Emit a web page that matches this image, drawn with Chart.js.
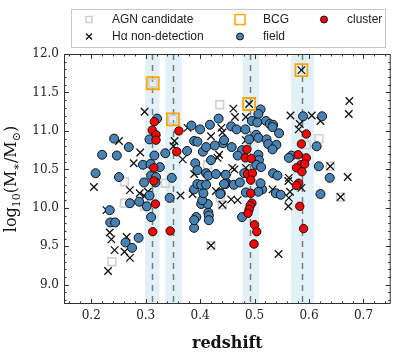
<!DOCTYPE html>
<html>
<head>
<meta charset="utf-8">
<script src="https://cdn.jsdelivr.net/npm/chart.js@4.4.0/dist/chart.umd.min.js"></script>
<style>
  html, body { margin:0; padding:0; background:#fff; }
  #wrap { width:401px; height:357px; position:relative; }
</style>
</head>
<body>
<div id="wrap"><canvas id="c"></canvas></div>
<script>
// field galaxies (blue)
const fieldZ = [0.321,0.242,0.307,0.269,0.220,0.247,0.316,0.336,0.384,0.400,0.418,0.434,0.442,0.389,0.395,0.376,0.405,0.411,0.427,0.295,
  0.309,0.326,0.391,0.420,0.511,0.507,0.495,0.505,0.521,0.528,0.534,0.533,0.545,0.457,0.467,0.483,0.444,0.503,0.507,0.490,
  0.522,0.525,0.540,0.533,0.458,0.477,0.469,0.507,0.508,0.503,0.589,0.624,0.614,0.568,0.563,0.618,0.638,0.621,0.534,0.542,
  0.539,0.548,0.514,0.507,0.511,0.477,0.484,0.447,0.462,0.473,0.438,0.481,0.512,0.208,0.251,0.297,0.310,0.319,0.318,0.307,
  0.271,0.288,0.302,0.310,0.348,0.344,0.234,0.235,0.244,0.263,0.287,0.275,0.389,0.393,0.389,0.415,0.416,0.416,0.402,0.414,
  0.404,0.406,0.389,0.395,0.402,0.411,0.395,0.411,0.415,0.429,0.447,0.444,0.437];
const fieldM = [11.16,10.90,10.89,10.79,10.69,10.68,10.68,10.71,11.07,11.02,11.08,11.16,10.84,10.87,10.86,10.74,10.73,10.79,10.81,10.56,
  10.57,10.53,10.58,10.62,11.28,11.22,11.13,11.11,11.13,11.09,11.08,11.05,10.97,11.06,11.02,11.02,10.88,10.95,10.91,10.89,
  10.89,10.83,10.82,10.76,10.79,10.75,10.68,10.69,10.62,10.56,11.19,11.19,10.80,10.68,10.65,10.54,10.39,10.18,10.45,10.42,
  10.19,10.17,10.24,10.21,10.32,9.88,10.20,10.31,10.30,10.33,10.19,10.45,10.53,10.45,10.40,10.33,10.42,10.40,10.33,10.16,
  10.06,10.08,10.02,9.88,10.39,10.13,9.97,9.81,9.81,9.55,9.61,9.48,9.74,9.88,9.84,9.94,9.90,9.84,10.05,10.05,
  10.10,10.19,10.24,10.31,10.30,10.30,10.49,10.45,10.42,10.44,10.43,10.31,10.18];

// cluster members (red)
const clusterZ = [0.316,0.312,0.319,0.319,0.357,0.361,0.315,0.315,0.318,0.313,0.345,
  0.486,0.483,0.494,0.487,0.496,0.493,0.493,0.495,0.492,0.490,0.488,0.500,0.504,0.499,
  0.595,0.586,0.580,0.595,0.585,0.592,0.577,0.581,0.577,0.583,0.590,0.587];
const clusterM = [11.12,11.01,10.95,10.88,10.73,11.00,10.52,10.35,10.05,9.69,9.70,
  10.76,10.65,10.64,10.44,10.45,10.36,10.19,10.06,10.03,9.98,9.93,9.78,9.69,9.53,
  10.96,10.83,10.69,10.65,10.56,10.57,10.52,10.32,10.29,10.02,9.73,10.47];

// H-alpha non-detections (crosses)
const nodetZ = [0.298,0.251,0.353,0.351,0.290,0.377,0.439,0.441,0.420,0.368,0.278,0.435,0.432,
  0.490,0.461,0.464,0.484,0.484,0.459,0.484,0.566,0.605,0.621,0.583,0.581,0.639,0.674,0.673,0.586,
  0.671,0.658,0.563,0.562,0.565,0.563,0.562,0.586,0.544,0.533,0.463,0.438,0.450,0.457,0.469,0.441,
  0.205,0.271,0.289,0.298,0.304,0.364,0.228,0.234,0.237,0.265,0.243,0.261,0.271,0.231,0.420,0.386,0.429,0.389];
const nodetM = [11.25,10.87,10.87,10.80,10.72,11.04,11.04,10.98,10.93,10.63,10.58,10.69,10.65,
  11.35,11.29,11.18,11.18,10.88,10.52,10.52,11.20,11.20,11.13,11.09,11.02,10.54,11.39,11.22,11.79,
  10.40,10.14,10.39,10.35,10.21,10.13,10.02,10.26,9.40,10.24,10.50,10.44,10.39,10.11,10.10,10.04,
  10.27,10.23,10.19,10.15,10.21,10.16,9.97,9.68,9.59,9.62,9.45,9.43,9.35,9.18,9.51,10.18,10.22,10.44];

// AGN candidates (grey squares)
const agnZ = [0.313,0.350,0.436,0.414,0.618,0.595,0.639,0.658,0.441,0.261,0.261,0.298,0.336,0.238,0.420,0.437];
const agnM = [11.62,11.15,11.34,10.56,10.90,10.82,10.54,10.14,10.04,10.34,10.06,10.02,10.32,9.30,9.51,10.13];

// brightest cluster galaxies (orange squares)
const bcgZ = [0.313,0.350,0.490,0.586];
const bcgM = [11.62,11.15,11.35,11.79];

// cluster redshifts and their shaded ranges
const clZ   = [0.312,0.351,0.492,0.587];
const bandLo = [0.299,0.336,0.478,0.567];
const bandHi = [0.3255,0.366,0.508,0.609];

const xTicks = [0.2,0.3,0.4,0.5,0.6,0.7];
const yTicks = [9.0,9.5,10.0,10.5,11.0,11.5,12.0];

const pts = (xs, ys) => xs.map((x, i) => ({ x, y: ys[i] }));

const SERIF = "'DejaVu Serif', serif";
const SANS  = "'Liberation Sans', Arial, sans-serif";

const bands = {
  id: 'bands',
  beforeDatasetsDraw(chart) {
    const { ctx, chartArea: a, scales: { x } } = chart;
    ctx.save();
    ctx.fillStyle = 'rgba(160,210,228,0.30)';
    bandLo.forEach((lo, i) => {
      const x0 = x.getPixelForValue(lo), x1 = x.getPixelForValue(bandHi[i]);
      ctx.fillRect(x0, a.top, x1 - x0, a.bottom - a.top);
    });
    ctx.strokeStyle = '#7a7a7a'; ctx.lineWidth = 1.5; ctx.setLineDash([6, 5]);
    clZ.forEach(z => {
      const px = Math.round(x.getPixelForValue(z)) + 0.5;
      ctx.beginPath(); ctx.moveTo(px, a.top); ctx.lineTo(px, a.bottom); ctx.stroke();
    });
    ctx.restore();
  }
};

const frame = {
  id: 'frame',
  afterDatasetsDraw(chart) {
    const { ctx, chartArea: a, scales: { x, y } } = chart;
    ctx.save();
    ctx.strokeStyle = '#333'; ctx.lineWidth = 1;
    ctx.strokeRect(a.left + 0.5, a.top + 0.5, a.right - a.left - 1, a.bottom - a.top - 1);
    const tick = (px, len, vert) => {
      ctx.beginPath();
      if (vert) {
        ctx.moveTo(px, a.bottom); ctx.lineTo(px, a.bottom - len);
        ctx.moveTo(px, a.top); ctx.lineTo(px, a.top + len);
      } else {
        ctx.moveTo(a.left, px); ctx.lineTo(a.left + len, px);
        ctx.moveTo(a.right, px); ctx.lineTo(a.right - len, px);
      }
      ctx.stroke();
    };
    for (let k = 8; k <= 37; k++) {
      const v = k / 50, major = k % 5 === 0;
      tick(Math.round(x.getPixelForValue(v)) + 0.5, major ? 5 : 2.5, true);
    }
    for (let k = 88; k <= 120; k++) {
      const v = k / 10, major = k % 5 === 0;
      tick(Math.round(y.getPixelForValue(v)) + 0.5, major ? 5 : 2.5, false);
    }
    ctx.restore();
  },
  afterDraw(chart) {
    const { ctx, chartArea: a } = chart;
    // y-axis title with subscripts
    const parts = [['log', 16, 0], ['10', 11, 4], ['(M', 16, 0], ['\u2217', 11, 4], ['/M', 16, 0], ['\u2299', 11, 4], [')', 16, 0]];
    ctx.save();
    let total = 0;
    parts.forEach(p => { ctx.font = p[1] + 'px ' + SERIF; total += ctx.measureText(p[0]).width; });
    ctx.translate(16, (a.top + a.bottom) / 2);
    ctx.rotate(-Math.PI / 2);
    ctx.fillStyle = '#111'; ctx.textBaseline = 'alphabetic';
    let cx = -total / 2;
    parts.forEach(p => {
      ctx.font = p[1] + 'px ' + SERIF;
      ctx.fillText(p[0], cx, p[2]);
      cx += ctx.measureText(p[0]).width;
    });
    ctx.restore();

    // legend
    ctx.save();
    ctx.strokeStyle = '#c8c8c8'; ctx.lineWidth = 1;
    ctx.strokeRect(71.5, 9.5, 314, 38);
    const r1 = 19.5, r2 = 36.5;
    ctx.lineWidth = 1.5; ctx.strokeStyle = '#d0d0d0';
    ctx.strokeRect(86, r1 - 3, 6, 6);
    ctx.strokeStyle = '#ffa500'; ctx.lineWidth = 1.5;
    ctx.strokeRect(235, r1 - 5, 10, 10);
    ctx.strokeStyle = '#111'; ctx.lineWidth = 1.3;
    ctx.beginPath(); ctx.moveTo(86, r2 - 3); ctx.lineTo(92, r2 + 3); ctx.moveTo(92, r2 - 3); ctx.lineTo(86, r2 + 3); ctx.stroke();
    ctx.lineWidth = 1;
    ctx.fillStyle = '#4682b4'; ctx.beginPath(); ctx.arc(240, r2, 3.5, 0, Math.PI * 2); ctx.fill(); ctx.stroke();
    ctx.fillStyle = '#ff0000'; ctx.beginPath(); ctx.arc(324, r1, 3.5, 0, Math.PI * 2); ctx.fill(); ctx.stroke();
    ctx.fillStyle = '#222'; ctx.font = '12px ' + SANS; ctx.textBaseline = 'middle';
    ctx.fillText('AGN candidate', 112, r1);
    ctx.fillText('H\u03b1 non-detection', 112, r2);
    ctx.fillText('BCG', 263, r1);
    ctx.fillText('field', 263, r2);
    ctx.fillText('cluster', 347, r1);
    ctx.restore();
  }
};

new Chart(document.getElementById('c'), {
  type: 'scatter',
  data: {
    datasets: [
      { label: 'BCG', data: pts(bcgZ, bcgM), order: 0, pointStyle: 'rect', radius: 8.5,
        backgroundColor: 'rgba(0,0,0,0)', borderColor: '#ffa500', borderWidth: 1.8 },
      { label: 'cluster', data: pts(clusterZ, clusterM), order: 1, pointStyle: 'circle', radius: 4.2,
        backgroundColor: '#ff0000', borderColor: '#111', borderWidth: 1 },
      { label: 'field', data: pts(fieldZ, fieldM), order: 2, pointStyle: 'circle', radius: 4.5,
        backgroundColor: '#4682b4', borderColor: '#111', borderWidth: 1 },
      { label: 'H\u03b1 non-detection', data: pts(nodetZ, nodetM), order: 3, pointStyle: 'crossRot', radius: 5.3,
        borderColor: '#111', borderWidth: 1.3 },
      { label: 'AGN candidate', data: pts(agnZ, agnM), order: 4, pointStyle: 'rect', radius: 5.5,
        backgroundColor: 'rgba(0,0,0,0)', borderColor: '#d0d0d0', borderWidth: 1.6 },
    ]
  },
  options: {
    responsive: true, maintainAspectRatio: false, animation: false, events: [],
    layout: { padding: { top: 54, right: 9, left: 0, bottom: 0 } },
    plugins: { legend: { display: false }, tooltip: { enabled: false } },
    scales: {
      x: {
        type: 'linear', min: 0.15, max: 0.75,
        grid: { display: false, drawTicks: false }, border: { display: false },
        afterBuildTicks: s => { s.ticks = xTicks.map(v => ({ value: v })); },
        afterFit: s => { s.height = 53; },
        ticks: { color: '#222', padding: 5, font: { family: SERIF, size: 12 }, callback: v => v.toFixed(1) },
        title: { display: true, text: 'redshift', color: '#111', padding: { top: 6 },
          font: { family: SERIF, size: 16, weight: 'bold' } },
      },
      y: {
        type: 'linear', min: 8.75, max: 12.0,
        grid: { display: false, drawTicks: false }, border: { display: false },
        afterBuildTicks: s => { s.ticks = yTicks.map(v => ({ value: v })); },
        afterFit: s => { s.width = 64; },
        ticks: { color: '#222', padding: 5, font: { family: SERIF, size: 12 }, callback: v => v.toFixed(1) },
      },
    },
  },
  plugins: [bands, frame],
});
</script>
</body>
</html>
